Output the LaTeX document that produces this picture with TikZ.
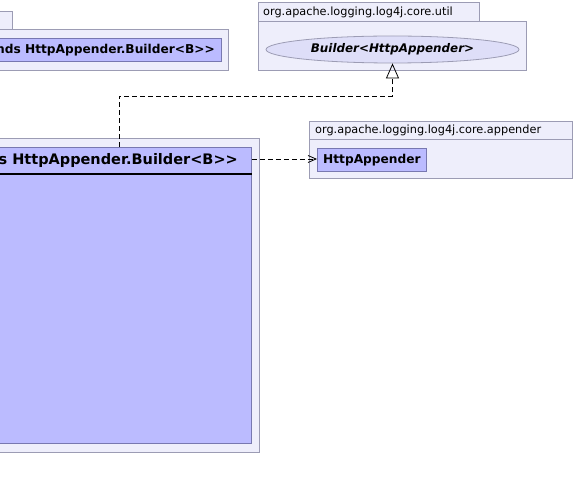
\documentclass[tikz,border=0pt]{standalone}
\usepackage{fontspec}
\setmainfont{DejaVu Sans}[Ligatures=TeXOff]
\usepackage{tikz}
\usetikzlibrary{arrows.meta,shapes.geometric}

\definecolor{pkgfill}{RGB}{238,238,251}
\definecolor{pkgline}{RGB}{156,156,180}
\definecolor{clsfill}{RGB}{187,187,255}
\definecolor{clsline}{RGB}{120,120,176}
\definecolor{ifcfill}{RGB}{222,222,248}

\tikzset{
  pkg/.style={draw=pkgline, fill=pkgfill, line width=0.8pt, rectangle, inner sep=0pt, anchor=north west},
  cls/.style={draw=clsline, fill=clsfill, line width=0.8pt, rectangle, inner sep=0pt, anchor=north west},
  pkgname/.style={font=\fontsize{11.3}{13}\selectfont, inner sep=0pt, anchor=west},
  clsname/.style={font=\fontsize{12.2}{14}\selectfont\bfseries, inner sep=0pt},
  dep/.style={dash pattern=on 5pt off 3pt, line width=0.8pt}
}

\begin{document}
\begin{tikzpicture}[x=1pt,y=-1pt]
      \path[use as bounding box] (0,0) rectangle (576,489);
      \clip (0,0) rectangle (576,489);

      % package on the left, top
      \node[pkg, minimum width=112pt, minimum height=18pt] (T1) at (-100,11) {};
      \node[pkg, minimum width=328pt, minimum height=41pt] (P1) at (-100,29) {};
      \node[cls, minimum width=321pt, minimum height=23pt] (C1) at (-100,38) {};
      \node[clsname, anchor=east] (N1) at (215,50) {nds HttpAppender.Builder<B>>};

      % package util
      \node[pkg, minimum width=221pt, minimum height=19pt] (T2) at (258,2) {};
      \node[pkg, minimum width=268pt, minimum height=49pt] (P2) at (258,21) {};
      \node[pkgname] (L2) at (263,12) {org.apache.logging.log4j.core.util};
      \node[ellipse, draw=pkgline, fill=ifcfill, line width=0.8pt, minimum width=253pt, minimum height=27pt,
            inner sep=0pt, font=\fontsize{11.9}{14}\selectfont\bfseries\itshape] (B) at (392.5,49.5) {Builder<HttpAppender>};

      % package appender
      \node[pkg, minimum width=263pt, minimum height=18pt] (T3) at (309,121) {};
      \node[pkg, minimum width=263pt, minimum height=39pt] (P3) at (309,139) {};
      \node[pkgname] (L3) at (315,130) {org.apache.logging.log4j.core.appender};
      \node[cls, minimum width=109pt, minimum height=23pt] (H) at (317,148) {};
      \node[clsname] at (H.center) {HttpAppender};

      % big package on the left
      \node[pkg, minimum width=359pt, minimum height=314pt] (P4) at (-100,138) {};
      \node[cls, minimum width=351pt, minimum height=296pt] (C4) at (-100,147) {};
      \draw[line width=2pt] (-100,174) -- (C4.east |- 0,174);
      \node[clsname, font=\fontsize{14.5}{17}\selectfont\bfseries, anchor=east] (N4) at (238,161) {s HttpAppender.Builder<B>>};

      % connectors
      \coordinate (K) at (119,96);
      \draw[dep, -{Triangle[open, length=15pt, width=13pt]}] (C4.north -| K) -- (K) -| (B.south);
      \draw[dep, -{Straight Barb[length=8pt, width=7pt]}] (C4.east |- 0,159) -- (H.west |- 0,159);
   \end{tikzpicture}
\end{document}
